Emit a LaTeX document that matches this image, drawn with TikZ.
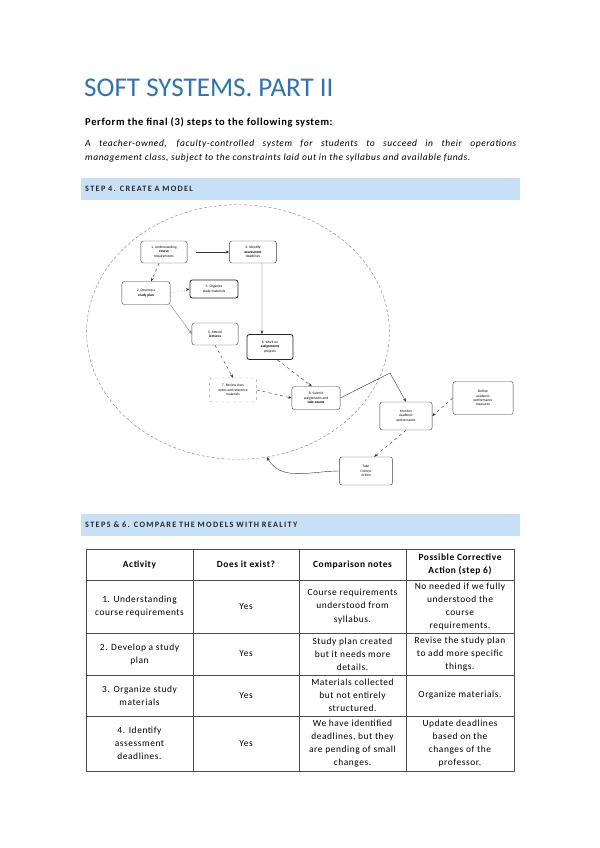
\documentclass[tikz,border=0pt]{standalone}
\usepackage{fontspec}
\setmainfont{Carlito}
\newfontfamily\spacedfont[LetterSpace=6]{Carlito}
\newfontfamily\bandfont[LetterSpace=16]{Carlito}
\usetikzlibrary{arrows.meta, positioning, shapes.geometric}
\definecolor{HeadBlue}{RGB}{46, 116, 181}
\definecolor{BandBlue}{RGB}{200, 224, 246}

\begin{document}
\begin{tikzpicture}[x=0.03506cm, y=-0.03506cm,
	act/.style={rectangle, rounded corners=2.5pt, draw=black!75, line width=0.4pt, align=center,
		minimum width=46, minimum height=22, inner sep=0.5pt, font=\fontsize{3.6}{4.4}\selectfont},
	firm/.style={line width=0.8pt, draw=black!85},
	band/.style={fill=BandBlue, anchor=west, minimum height=22, text width=430, inner xsep=4,
		inner ysep=0, align=left, font=\bandfont\bfseries\fontsize{8.2}{9}\selectfont, text=black!85},
	cell/.style={align=center, inner sep=0, font=\spacedfont\fontsize{9.4}{13}\selectfont},
	head/.style={cell, font=\spacedfont\bfseries\fontsize{9.4}{13}\selectfont},
	fl/.style={-{Stealth[length=1.3mm]}, line width=0.4pt, black!80}]
	\fill[white] (0,0) rectangle (599,848);
	\useasboundingbox (0,0) rectangle (599,848);

	% heading and task
	\node[anchor=base west, inner sep=0, text=HeadBlue, font=\fontsize{27}{32}\selectfont] (title) at (84,97) {SOFT SYSTEMS. PART II};
	\node[anchor=base west, inner sep=0, font=\spacedfont\bfseries\fontsize{10.5}{12}\selectfont] (task) at (85,125) {Perform the final (3) steps to the following system:};
	\node[anchor=north west, inner sep=0, text width=430, align=justify, font=\spacedfont\itshape\fontsize{9.5}{13.5}\selectfont] (sys) at (85,140)
		{A teacher-owned, faculty-controlled system for students to succeed in their operations\linebreak management class, subject to the constraints laid out in the syllabus and available funds.};
	\node[band] (b4) at (81,189) {STEP 4. CREATE A MODEL};

	% model
	\node[ellipse, draw=black!55, line width=0.35pt, densely dashed, minimum width=302, minimum height=254] (rim) at (238,332) {};
	\node[act] (n1) at (164,252) {1. Understanding\\\textbf{course}\\requirements};
	\node[act, minimum width=47] (n4) at (253,252) {4. Identify\\\textbf{assessment}\\deadlines};
	\node[act, minimum width=48, minimum height=23] (n2) at (146,293) {2. Develop a\\\textbf{study plan}};
	\node[act, firm, minimum width=48, minimum height=18] (n3) at (214,289) {3. Organize\\study materials};
	\node[act] (n5) at (215,334) {5. Attend\\\textbf{lectures}};
	\node[act, firm, minimum height=25] (n6) at (270,347) {6. Work on\\\textbf{assignments}\\projects};
	\node[act, draw=black!40, dashed, minimum width=47, minimum height=24] (n7) at (233,390) {7. Review class\\notes and reference\\materials};
	\node[act, minimum width=48, minimum height=23] (n8) at (316,398) {8. Submit\\assignments and\\\textbf{take exams}};
	\node[act, minimum width=52, minimum height=28] (mon) at (406,416) {Monitor\\academic\\performance};
	\node[act, minimum width=60, minimum height=33] (def) at (483,398) {Define\\academic\\performance\\measures};
	\node[act, minimum width=53, minimum height=28] (tca) at (366,471) {Take\\Control\\Action};
	\coordinate (kink) at (390,373);

	\draw[fl, line width=0.7pt, shorten <=9pt] (n1.east) -- (n4.west);
	\draw[fl, dashed] (n1) -- (n2);
	\draw[fl, dotted] (n2.east) -- (n3.west);
	\draw[fl, black!50] (n2.south east) -- (n5.west);
	\draw[fl] ([xshift=9]n4.south) -- ([xshift=-8]n6.north);
	\draw[fl, dashed] (n5.south) -- (n7.north);
	\draw[fl, dashed] (n6.-60) -- (n8.110);
	\draw[fl, dashed] (n7.east) -- (n8.west);
	\draw[fl] (n8.east) -- (kink) -- (mon.north);
	\draw[fl, dashed] (def.west) -- (mon.east);
	\draw[fl, dashed] (mon.south) -- (tca.60);
	\draw[fl] (tca.west) to[out=180, in=-60] (rim.-77);

	% comparison table
	\node[band] (b56) at (81,525) {STEP5 \& 6. COMPARE THE MODELS WITH REALITY};
	\draw[black!70, line width=0.8pt] (86,549) rectangle (514,771);
	\foreach \y in {580,633,675,716} \draw[black!70, line width=0.6pt] (86,\y) -- (514,\y);
	\foreach \x in {193,299,406} \draw[black!70, line width=0.6pt] (\x,549) -- (\x,771);

	\node[head] (h1) at (139.5,564.5) {Activity};
	\node[head] (h2) at (246,564.5) {Does it exist?};
	\node[head] (h3) at (352.5,564.5) {Comparison notes};
	\node[head] (h4) at (460,564.5) {Possible Corrective\\Action (step 6)};

	\node[cell] (a1) at (139.5,606.5) {1. Understanding\\course requirements};
	\node[cell] (e1) at (246,606.5) {Yes};
	\node[cell] (c1) at (352.5,606.5) {Course requirements\\understood from\\syllabus.};
	\node[cell] (p1) at (460,606.5) {No needed if we fully\\understood the\\course\\requirements.};

	\node[cell] (a2) at (139.5,654) {2. Develop a study\\plan};
	\node[cell] (e2) at (246,654) {Yes};
	\node[cell] (c2) at (352.5,654) {Study plan created\\but it needs more\\details.};
	\node[cell] (p2) at (460,654) {Revise the study plan\\to add more specific\\things.};

	\node[cell] (a3) at (139.5,695.5) {3. Organize study\\materials};
	\node[cell] (e3) at (246,695.5) {Yes};
	\node[cell] (c3) at (352.5,695.5) {Materials collected\\but not entirely\\structured.};
	\node[cell] (p3) at (460,695.5) {Organize materials.};

	\node[cell] (a4) at (139.5,743.5) {4. Identify\\assessment\\deadlines.};
	\node[cell] (e4) at (246,743.5) {Yes};
	\node[cell] (c4) at (352.5,743.5) {We have identified\\deadlines, but they\\are pending of small\\changes.};
	\node[cell] (p4) at (460,743.5) {Update deadlines\\based on the\\changes of the\\professor.};
\end{tikzpicture}
\end{document}
